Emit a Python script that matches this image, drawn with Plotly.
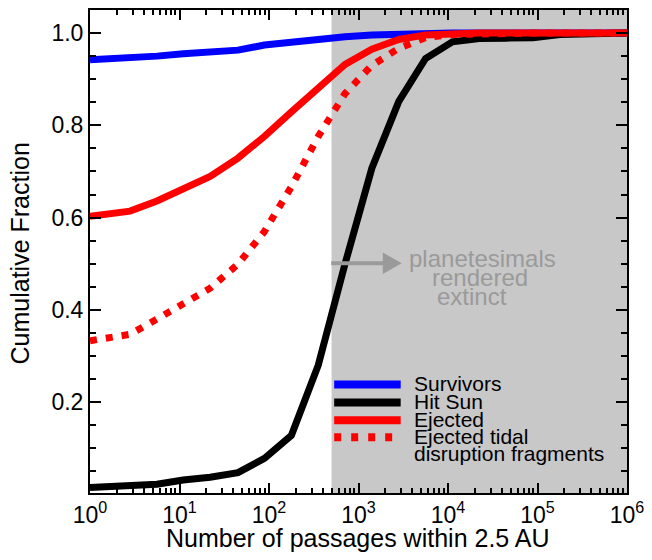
import plotly.graph_objects as go

# ---------------- data ----------------
passages = [1, 2.8, 5.6, 11, 22, 45, 89, 178, 355, 708, 1410, 2820, 5620,
            11200, 22400, 44700, 89100, 178000, 355000, 708000, 1000000]
survivors = [0.942, 0.945, 0.950, 0.955, 0.959, 0.963, 0.974, 0.981, 0.986, 0.992,
             0.996, 0.998, 0.999, 1.0, 1.0, 1.0, 1.0, 1.0, 1.0, 1.0, 1.0]
hit_sun = [0.015, 0.018, 0.022, 0.031, 0.037, 0.047, 0.078, 0.128, 0.28, 0.50,
           0.707, 0.852, 0.945, 0.981, 0.988, 0.989, 0.990, 0.997, 0.999, 1.0, 1.0]
ejected = [0.603, 0.614, 0.636, 0.662, 0.689, 0.729, 0.776, 0.829, 0.882, 0.932,
           0.965, 0.986, 0.996, 0.999, 1.0, 1.0, 1.0, 1.0, 1.0, 1.0, 1.0]
ejected_tidal = [0.333, 0.347, 0.380, 0.412, 0.447, 0.499, 0.570, 0.667, 0.776, 0.869,
                 0.930, 0.967, 0.990, 0.997, 0.999, 1.0, 1.0, 1.0, 1.0, 1.0, 1.0]

extinct_start = 500
x_major = [1, 10, 100, 1000, 10000, 100000, 1000000]
x_major_text = ["10<sup>0</sup>", "10<sup>1</sup>", "10<sup>2</sup>", "10<sup>3</sup>",
                "10<sup>4</sup>", "10<sup>5</sup>", "10<sup>6</sup>"]
y_major = [0.2, 0.4, 0.6, 0.8, 1.0]
y_major_text = ["0.2", "0.4", "0.6", "0.8", "1.0"]
y_range = [0.003, 1.05]

series_names = ["Survivors", "Hit Sun", "Ejected", "Ejected tidal"]
series_colors = ["#0000ff", "#000000", "#ff0000", "#ff0000"]

FONT = "Liberation Sans, Arial, Helvetica, sans-serif"
GREY = "#9a9a9a"
SHADE = "#c8c8c8"

# plot area in pixels
L, R, T, B = 90, 631, 8, 493


def xp(px):
    return (px - L) / (R - L)


def yp(py):
    return (B - py) / (B - T)


fig = go.Figure()

# shaded "extinct" region
fig.add_trace(go.Scatter(
    x=[extinct_start, passages[-1], passages[-1], extinct_start],
    y=[y_range[0], y_range[0], y_range[1], y_range[1]],
    fill="toself", fillcolor=SHADE, line=dict(width=0), mode="lines",
    hoverinfo="skip", showlegend=False))

fig.add_trace(go.Scatter(x=passages, y=survivors, mode="lines", name=series_names[0],
                         line=dict(color=series_colors[0], width=7), showlegend=False))
fig.add_trace(go.Scatter(x=passages, y=hit_sun, mode="lines", name=series_names[1],
                         line=dict(color=series_colors[1], width=7), showlegend=False))
fig.add_trace(go.Scatter(x=passages, y=ejected, mode="lines", name=series_names[2],
                         line=dict(color=series_colors[2], width=7), showlegend=False))
fig.add_trace(go.Scatter(x=passages, y=ejected_tidal, mode="lines", name=series_names[3],
                         line=dict(color=series_colors[3], width=7, dash="7px,9px"),
                         showlegend=False))

x_minor = [m * 10 ** k for k in range(6) for m in range(2, 10)]

fig.update_xaxes(
    type="log", range=[0, 6], showgrid=False, zeroline=False,
    showline=True, linecolor="black", linewidth=2, mirror="allticks",
    ticks="inside", ticklen=10, tickwidth=2, tickcolor="black",
    tickmode="array", tickvals=x_major, ticktext=x_major_text,
    tickfont=dict(family=FONT, size=23, color="black"),
    minor=dict(tickmode="array", tickvals=x_minor, ticks="inside",
               ticklen=5, tickwidth=2, tickcolor="black", showgrid=False),
)
fig.update_yaxes(
    range=y_range, showgrid=False, zeroline=False,
    showline=True, linecolor="black", linewidth=2, mirror="allticks",
    ticks="inside", ticklen=11, tickwidth=2, tickcolor="black",
    tickmode="array", tickvals=y_major, ticktext=y_major_text,
    tickfont=dict(family=FONT, size=23, color="black"),
    minor=dict(tick0=0, dtick=0.05, ticks="inside",
               ticklen=6, tickwidth=2, tickcolor="black", showgrid=False),
)

annotations = []
shapes = []

# axis titles
annotations.append(dict(text="Number of passages within 2.5 AU", xref="paper", yref="paper",
                        x=xp(360.4), y=yp(538), xanchor="center", yanchor="middle",
                        showarrow=False, font=dict(family=FONT, size=25, color="black")))
annotations.append(dict(text="Cumulative Fraction", xref="paper", yref="paper",
                        x=xp(19), y=yp(253), xanchor="center", yanchor="middle",
                        textangle=-90, showarrow=False,
                        font=dict(family=FONT, size=25, color="black")))

# legend
leg_y = [384, 402, 420, 437]
leg_text_y = [383, 401, 419, 436]
leg_dash = ["solid", "solid", "solid", "7px,10px"]
for i in range(4):
    shapes.append(dict(type="line", xref="paper", yref="paper",
                       x0=xp(336), x1=xp(403), y0=yp(leg_y[i]), y1=yp(leg_y[i]),
                       line=dict(color=series_colors[i], width=8, dash=leg_dash[i])))
    annotations.append(dict(text=series_names[i], xref="paper", yref="paper",
                            x=xp(414), y=yp(leg_text_y[i]), xanchor="left", yanchor="middle",
                            showarrow=False, font=dict(family=FONT, size=21, color="black")))
annotations.append(dict(text="disruption fragments", xref="paper", yref="paper",
                        x=xp(414), y=yp(453), xanchor="left", yanchor="middle",
                        showarrow=False, font=dict(family=FONT, size=21, color="black")))

# extinct annotation with arrow
shapes.append(dict(type="line", xref="paper", yref="paper",
                   x0=xp(333), x1=xp(388), y0=yp(262.3), y1=yp(262.3),
                   line=dict(color=GREY, width=4)))
shapes.append(dict(type="path", xref="paper", yref="paper",
                   path="M {} {} L {} {} L {} {} Z".format(xp(385), yp(251.5), xp(404), yp(262.3),
                                                          xp(385), yp(273)),
                   fillcolor=GREY, line=dict(width=0)))
for txt, cx, cy in [("planetesimals", 485, 258), ("rendered", 482.5, 277), ("extinct", 475, 296)]:
    annotations.append(dict(text=txt, xref="paper", yref="paper", x=xp(cx), y=yp(cy),
                            xanchor="center", yanchor="middle", showarrow=False,
                            font=dict(family=FONT, size=24, color=GREY)))

fig.update_layout(
    width=652, height=560,
    margin=dict(l=L, r=652 - R, t=T, b=560 - B),
    paper_bgcolor="white", plot_bgcolor="white",
    showlegend=False,
    annotations=annotations, shapes=shapes,
)

fig.write_html("out.html")
